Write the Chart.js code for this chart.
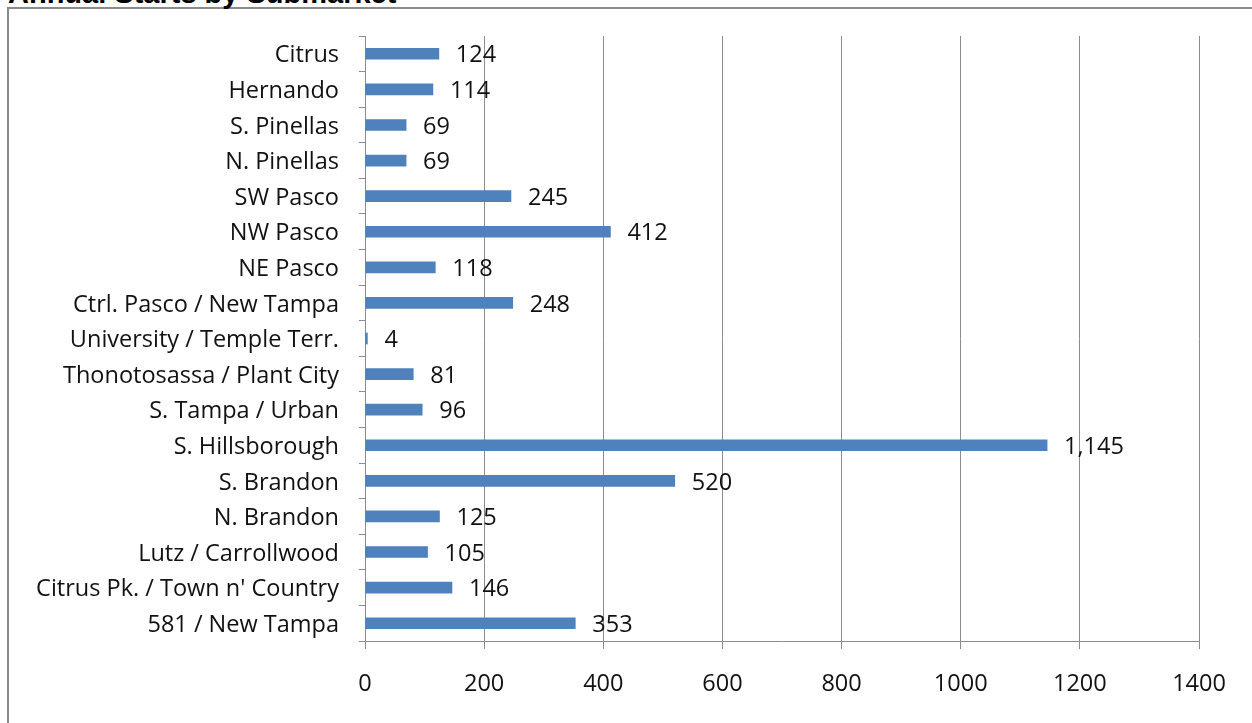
<!DOCTYPE html>
<html>
<head>
<meta charset="utf-8">
<script src="https://cdn.jsdelivr.net/npm/chart.js@4/dist/chart.umd.min.js"></script>
<style>
  html, body { margin: 0; padding: 0; background: #fff; overflow: hidden; }
  #wrap { position: relative; width: 1252px; height: 723px; overflow: hidden; }
  #frame { position: absolute; left: 7px; top: 7px; width: 1400px; height: 900px; border: 2px solid #8a8a8a; box-sizing: border-box; }
  #title { position: absolute; left: 8px; top: -21px; font: bold 29px "Liberation Sans", Arial, sans-serif; line-height: 29px; color: #000; white-space: nowrap; }
  #c { position: absolute; left: 0; top: 0; }
</style>
</head>
<body>
<div id="wrap">
  <div id="frame"></div>
  <div id="title">Annual Starts by Submarket</div>
  <canvas id="c" width="1252" height="723"></canvas>
</div>
<script>
const categories = [
  "Citrus", "Hernando", "S. Pinellas", "N. Pinellas", "SW Pasco", "NW Pasco", "NE Pasco",
  "Ctrl. Pasco / New Tampa", "University / Temple Terr.", "Thonotosassa / Plant City",
  "S. Tampa / Urban", "S. Hillsborough", "S. Brandon", "N. Brandon", "Lutz / Carrollwood",
  "Citrus Pk. / Town n' Country", "581 / New Tampa"
];
const starts = [124, 114, 69, 69, 245, 412, 118, 248, 4, 81, 96, 1145, 520, 125, 105, 146, 353];
const xTicks = [0, 200, 400, 600, 800, 1000, 1200, 1400];

const FONT = "'Open Sans', sans-serif";
const FSIZE = 23.5;

const labelPlugin = {
  id: 'barLabels',
  afterDatasetsDraw(chart) {
    const ctx = chart.ctx;
    const meta = chart.getDatasetMeta(0);
    ctx.save();
    ctx.font = FSIZE + "px " + FONT;
    ctx.fillStyle = "#111";
    ctx.textAlign = "left";
    ctx.textBaseline = "middle";
    meta.data.forEach((bar, i) => {
      ctx.fillText(starts[i].toLocaleString('en-US'), bar.x + 17, bar.y + 2);
    });
    ctx.restore();
  }
};

new Chart(document.getElementById('c'), {
  type: 'bar',
  data: {
    labels: categories,
    datasets: [{
      data: starts,
      backgroundColor: '#4F81BD',
      borderWidth: 0,
      barThickness: 11
    }]
  },
  options: {
    indexAxis: 'y',
    responsive: false,
    animation: false,
    events: [],
    layout: { padding: { left: 0, right: 53, top: 36, bottom: 0 } },
    plugins: { legend: { display: false }, tooltip: { enabled: false }, title: { display: false } },
    scales: {
      x: {
        min: 0, max: 1400,
        afterBuildTicks(scale) { scale.ticks = xTicks.map(v => ({ value: v })); },
        afterFit(scale) { scale.height = 82; },
        grid: { color: '#8c8c8c', lineWidth: 1, tickLength: 8, drawOnChartArea: true },
        border: { display: true, color: '#8c8c8c', width: 1 },
        ticks: { font: { family: FONT, size: FSIZE }, color: '#111', padding: 21, maxRotation: 0,
                 callback: (v) => String(v) }
      },
      y: {
        afterFit(scale) { scale.width = 365; },
        grid: { color: '#8c8c8c', drawOnChartArea: false, tickLength: 6, offset: true },
        border: { display: true, color: '#8c8c8c', width: 1 },
        ticks: { font: { family: FONT, size: FSIZE }, color: '#111', padding: 20, autoSkip: false,
                 labelOffset: 2 }
      }
    }
  },
  plugins: [labelPlugin]
});
</script>
</body>
</html>
